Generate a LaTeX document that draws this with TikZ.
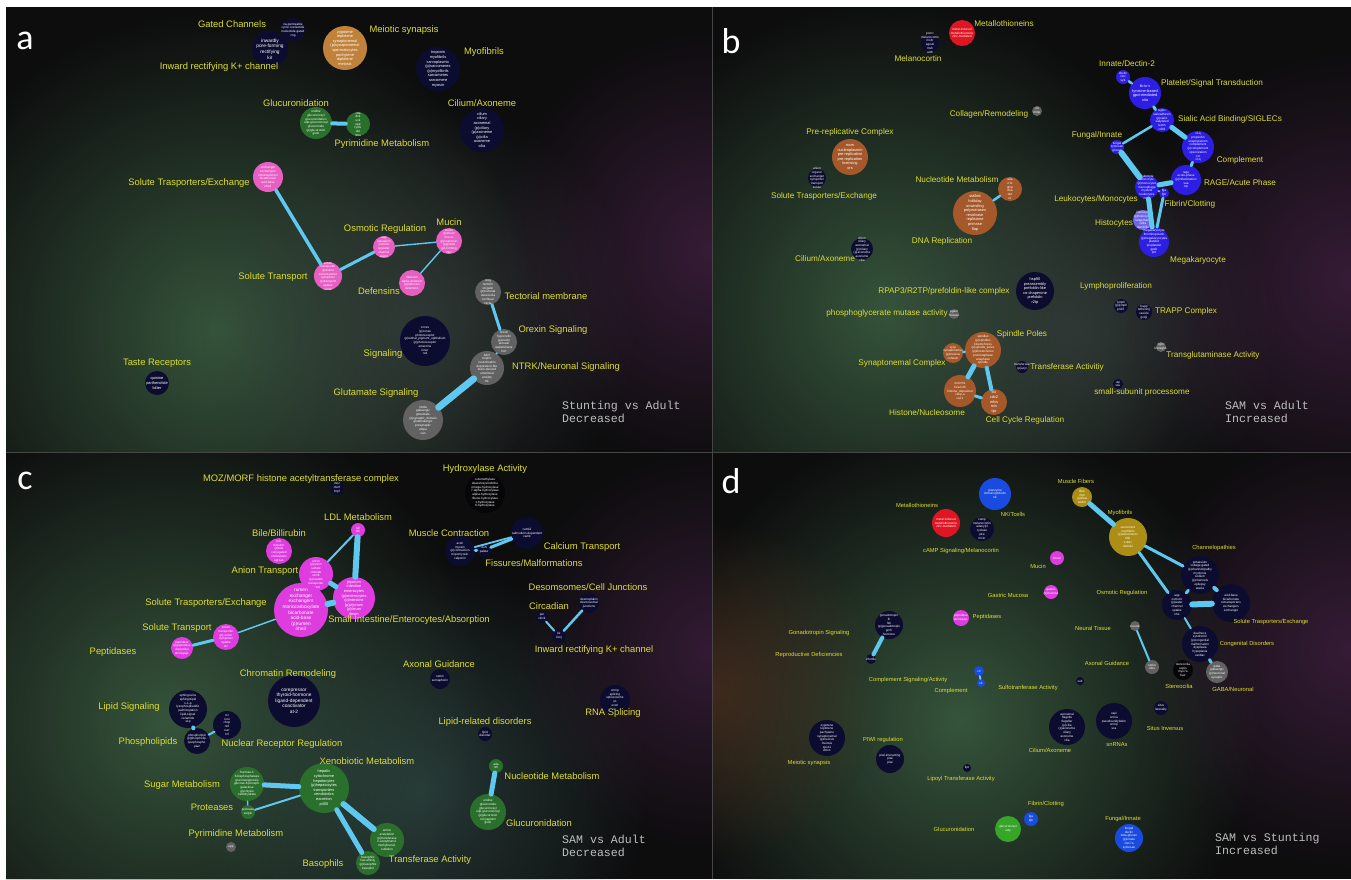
\documentclass[tikz,border=0pt]{standalone}
\usepackage{fontspec}
\setmainfont{Liberation Sans}
\newfontfamily\monof{Liberation Mono}
\newfontfamily\letf{Carlito}
\usetikzlibrary{fadings}
\tikzfading[name=glowfade, inner color=transparent!0, outer color=transparent!100]
\definecolor{bgC}{RGB}{13,13,14}
\definecolor{sepC}{RGB}{70,70,70}
\definecolor{labY}{RGB}{222,222,48}
\definecolor{linkC}{RGB}{95,200,240}
\definecolor{navyC}{RGB}{12,12,48}
\definecolor{pinkA}{RGB}{232,95,195}
\definecolor{magC}{RGB}{222,60,222}
\definecolor{tanC}{RGB}{192,130,58}
\definecolor{brownC}{RGB}{165,88,42}
\definecolor{greenC}{RGB}{42,112,44}
\definecolor{greenD}{RGB}{55,165,40}
\definecolor{grayC}{RGB}{98,98,98}
\definecolor{blueB}{RGB}{45,30,228}
\definecolor{blueH}{RGB}{110,100,232}
\definecolor{blueD}{RGB}{25,75,225}
\definecolor{redC}{RGB}{222,22,35}
\definecolor{goldC}{RGB}{172,142,22}
\definecolor{blackC}{RGB}{6,6,8}
\definecolor{monoC}{RGB}{190,190,190}
\definecolor{gGreen}{RGB}{58,92,64}
\definecolor{gGray}{RGB}{55,62,62}
\definecolor{gPurp}{RGB}{72,34,72}
\definecolor{gTeal}{RGB}{48,74,70}
\definecolor{gBrown}{RGB}{85,50,32}
\newcommand\labfont{\fontsize{9.4}{10}\selectfont}
\newcommand\blabfont{\fontsize{8.2}{9}\selectfont}
\newcommand\dlabfont{\fontsize{5.8}{6.5}\selectfont}
\newcommand\cloudfont{\fontsize{3.1}{3.7}\selectfont}
\newcommand\cloudL{\fontsize{4.8}{5.6}\selectfont}
\newcommand\cloudM{\fontsize{3.9}{4.6}\selectfont}
\newcommand\lab[3]{\node[lab] (#1) at (#2) {#3};}
\newcommand\blab[3]{\node[blab] (#1) at (#2) {#3};}
\newcommand\dlab[3]{\node[dlab] (#1) at (#2) {#3};}
\tikzset{
  lab/.style={text=labY, font=\labfont, inner sep=0pt},
  blab/.style={text=labY, font=\blabfont, inner sep=0pt},
  dlab/.style={text=labY, font=\dlabfont, inner sep=0pt},
  bub/.style={circle, inner sep=0pt, draw=none, fill=#1},
  rad/.style={minimum size=2*#1},
  cloud/.style={text=white, font=\cloudfont, align=center, inner sep=0pt},
  bt/.style={label={[cloud]center:{#1}}},
  btm/.style={label={[cloud,font=\cloudM]center:{#1}}},
  btl/.style={label={[cloud,font=\cloudL]center:{#1}}},
  link/.style={draw=linkC, line cap=round, line width=#1},
  mono/.style={text=monoC, font=\monof\fontsize{11.6}{13}\selectfont, align=left, anchor=north west, inner sep=0pt},
  plet/.style={text=white, font=\letf\fontsize{36}{36}\selectfont, inner sep=0pt},
  glow/.style={fill=#1, path fading=glowfade}
}
\begin{document}
\begin{tikzpicture}[x=1pt,y=-1pt]
\useasboundingbox (0,0) rectangle (1351,879);
\fill[white] (0,0) rectangle (1351,879);
\fill[sepC] (6,7) rectangle (1351,879);
% ---------- backgrounds
\begin{scope}
\clip (6,7) rectangle (712,452);
\fill[bgC] (6,7) rectangle (712,452);
\fill[glow=gGreen, opacity=0.9] (220,330) circle (320);
\fill[glow=gGray, opacity=0.7] (420,320) circle (220);
\fill[glow=gPurp, opacity=0.7] (712,250) circle (220);
\end{scope}
\begin{scope}
\clip (713,7) rectangle (1351,452);
\fill[bgC] (713,7) rectangle (1351,452);
\fill[glow=gGreen, opacity=0.9] (890,310) circle (310);
\fill[glow=gGray, opacity=0.7] (1080,330) circle (200);
\fill[glow=gPurp, opacity=0.7] (1351,280) circle (230);
\end{scope}
\begin{scope}
\clip (6,453) rectangle (712,879);
\fill[bgC] (6,453) rectangle (712,879);
\fill[glow=gGreen, opacity=0.9] (170,720) circle (320);
\fill[glow=gTeal, opacity=0.7] (420,790) circle (230);
\fill[glow=gPurp, opacity=0.65] (712,650) circle (200);
\end{scope}
\begin{scope}
\clip (713,453) rectangle (1351,879);
\fill[bgC] (713,453) rectangle (1351,879);
\fill[glow=gGreen, opacity=0.9] (960,720) circle (300);
\fill[glow=gBrown, opacity=0.65] (713,690) circle (170);
\fill[glow=gPurp, opacity=0.7] (1351,650) circle (220);
\end{scope}
\draw[sepC, line width=0.8] (712.5,7) -- (712.5,879);
\draw[sepC, line width=0.8] (6,452.5) -- (1351,452.5);
% ---------- panel letters
\node[plet] (La) at (25,41) {a};
\node[plet] (Lb) at (731,41) {b};
\node[plet] (Lc) at (25,481) {c};
\node[plet] (Ld) at (731,481) {d};

% ================= PANEL A
\node[bub=navyC, rad=12, bt={na-permeable\\cyclic-nucleotide\\nucleotide-gated\\cng}] (aGate) at (293,30) {};
\node[bub=navyC, rad=18, btl={inwardly\\pore-forming\\rectifying\\kir}] (aInw) at (270,49) {};
\node[bub=tanC, rad=22, btm={zygotene\\leptotene\\synaptonemal\\(p)synaptonemal\\spermatocytes\\pachytene\\diplotene\\meiosis}] (aMei) at (345,48) {};
\node[bub=navyC, rad=22, btm={troponin\\myofibrils\\sarcoplasmic\\(p)sarcomeres\\(p)myofibrils\\sarcomeres\\sarcomere\\myosin}] (aMyo) at (438,69) {};
\node[bub=navyC, rad=22, btm={cilium\\ciliary\\axonemal\\(p)ciliary\\(p)axoneme\\(p)cilia\\axoneme\\cilia}] (aCil) at (482,130) {};
\node[bub=greenC, rad=16, bt={uridine\\glucuronosyl\\glucuronidation\\udp-glucuronosyl\\glucuronide\\(p)glucuronid.\\gusb}] (aGlu) at (316,123) {};
\node[bub=greenC, rad=12, bt={cda\\dck\\uck\\upp\\tyms\\dut\\nme}] (aPyr) at (358,124) {};
\node[bub=pinkA, rad=15, bt={exchanger\\exchangers\\cotransporters\\bicarbonate\\acid-base\\nhe3}] (aSTE) at (268,177) {};
\node[bub=pinkA, rad=14, bt={solute\\transporter\\(p)solute\\cotransporter\\symporter\\(p)transport\\uptake\\carrier}] (aST) at (328,276) {};
\node[bub=pinkA, rad=11, bt={aqp\\aquaporin\\osmotic\\(p)water\\channel\\water}] (aOsm) at (384,247) {};
\node[bub=pinkA, rad=13, bt={mucin\\(p)mucin\\mucus\\glycoprotein\\(p)goblet\\gel-forming\\muc}] (aMuc) at (449,241) {};
\node[bub=pinkA, rad=13, bt={defensin\\alpha-defensin\\(p)defensin\\defensins}] (aDef) at (412,283) {};
\node[bub=grayC, rad=13, bt={otog\\tectorin\\otogelin\\(p)tectorial\\stereocilia\\cochlear\\tecta}] (aTec) at (488,292) {};
\node[bub=grayC, rad=13, bt={orexin\\hypocretin\\(p)orexin\\arousal\\wakefulness\\hcrt}] (aOre) at (504,342) {};
\node[bub=grayC, rad=17, bt={bdnf\\trophic\\neurotrophin\\depression-like\\brain-derived\\emotional\\anxiety\\trk}] (aNTRK) at (487,368) {};
\node[bub=grayC, rad=20, bt={nmda\\gabaergic\\glutamate\\(p)synaptic\_domain\\glutamatergic\\presynaptic\\ampa\\can}] (aGlut) at (423,420) {};
\node[bub=navyC, rad=25, bt={cones\\(p)cones\\photoreceptor\\(p)retinal\_pigment\_epithelium\\(p)photoreceptor\\amacrine\\inner\\rod}] (aSig) at (425,341) {};
\node[bub=navyC, rad=12, btm={quinine\\parthenolide\\bitter}] (aTas) at (157,383) {};
\draw[link=4] (aGlu) -- (aPyr);
\draw[link=3.5] (aSTE) -- (aST);
\draw[link=3] (aST) -- (aOsm);
\draw[link=1.4] (aOsm) -- (aMuc);
\draw[link=1.4] (aMuc) -- (aDef);
\draw[link=3] (aTec) -- (aOre);
\draw[link=2] (aOre) -- (aNTRK);
\draw[link=7] (aNTRK) -- (aGlut);
\lab{aGateL}{232,24}{Gated Channels}
\lab{aInwL}{219,67}{Inward rectifying K+ channel}
\lab{aMeiL}{404,30}{Meiotic synapsis}
\lab{aMyoL}{484,52}{Myofibrils}
\lab{aCilL}{482,103}{Cilium/Axoneme}
\lab{aGluL}{296,103}{Glucuronidation}
\lab{aPyrL}{382,144}{Pyrimidine Metabolism}
\lab{aSTEL}{189,183}{Solute Trasporters/Exchange}
\lab{aOsmL}{385,229}{Osmotic Regulation}
\lab{aMucL}{449,222}{Mucin}
\lab{aSTL}{273,277}{Solute Transport}
\lab{aDefL}{379,291}{Defensins}
\lab{aTecL}{546,296}{Tectorial membrane}
\lab{aOreL}{553,330}{Orexin Signaling}
\lab{aNTRKL}{566,367}{NTRK/Neuronal Signaling}
\lab{aSigL}{383,354}{Signaling}
\lab{aGlutL}{376,393}{Glutamate Signaling}
\lab{aTasL}{157,363}{Taste Receptors}
\node[mono] (aCap) at (562,401) {Stunting vs Adult\\Decreased};

% ================= PANEL B
\node[bub=redC, rad=13, bt={metal-induced\\metallothioneins\\zinc-mediated}] (bMet) at (962,33) {};
\node[bub=navyC, rad=9, bt={pomc\\melanocortin\\mc4r\\agouti\\msh\\acth}] (bMel) at (930,43) {};
\node[bub=blueB, rad=7, bt={dectin\\clec\\syk}] (bInn) at (1123,77) {};
\node[bub=blueB, rad=16, btm={ib-ix-v\\tyrosine-based\\gpvi-mediated\\xiia}] (bPlt) at (1145,93) {};
\node[bub=blueB, rad=12, bt={siglec\\sialoadhesin\\(p)sialic\\sialylated\\lectin\\cd33}] (bSia) at (1162,120) {};
\node[bub=blueB, rad=16, bt={c1q\\properdin\\anaphylatoxin\\complement\\(p)complement\\opsonization\\c1r\\c1q}] (bCom) at (1198,147) {};
\node[bub=blueB, rad=15, bt={rage\\acute-phase\\(p)inflammation\\saa\\crp}] (bRAGE) at (1186,180) {};
\node[bub=blueB, rad=7, bt={fungal\\zymosan\\glucan}] (bFun) at (1117,147) {};
\node[bub=blueB, rad=12, bt={leukocyte\\monocyte\\(p)monocytes\\macrophage\\myeloid\\leukocytes\\cd14}] (bLeu) at (1147,187) {};
\node[bub=blueB, rad=5, bt={fga\\fgb}] (bFib) at (1164,193) {};
\node[bub=blueH, rad=10, bt={histiocyte\\(p)histiocytes\\langerhans\\cd1a\\dendritic}] (bHis) at (1143,220) {};
\node[bub=blueB, rad=15, bt={megakaryocyte\\thrombopoietin\\(p)megakaryocytes\\platelet\\proplatelet\\gp1b\\pf4}] (bMeg) at (1154,242) {};
\node[bub=grayC, rad=5, bt={col\\mmp}] (bCol) at (1037,111) {};
\node[bub=brownC, rad=18, btm={mcm\\nucleoplasmin\\pre-replicative\\pre-replication\\licensing\\ors}] (bPre) at (850,157) {};
\node[bub=navyC, rad=9, bt={anion\\organic\\exchanger\\symporter\\transport\\solute}] (bSTE) at (817,178) {};
\node[bub=brownC, rad=12, bt={ada\\rrm\\gmp\\dna\\dut\\nt}] (bNuc) at (1010,189) {};
\node[bub=brownC, rad=22, btm={stalled\\holliday\\unwinding\\polymerases\\resolvase\\replisome\\primase\\flap}] (bDNA) at (975,213) {};
\node[bub=navyC, rad=11, bt={cilium\\ciliary\\axonemal\\(p)ciliary\\(p)axoneme\\axoneme\\cilia}] (bCil) at (862,249) {};
\node[bub=navyC, rad=19, btm={hsp90\\preassembly\\prefoldin-like\\co-chaperone\\prefoldin\\r2tp}] (bRP) at (1035,291) {};
\node[bub=grayC, rad=5, bt={pgam\\mutase}] (bPGM) at (954,314) {};
\node[bub=navyC, rad=7, bt={lymph\\(p)lymph\\prolif.}] (bLym) at (1121,306) {};
\node[bub=navyC, rad=8, bt={trapp\\tethering\\vesicle\\golgi}] (bTRA) at (1144,312) {};
\node[bub=grayC, rad=5, bt={tgm\\transglut.}] (bTG) at (1161,347) {};
\node[bub=brownC, rad=18, bt={spindles\\(p)spindles\\kinetochores\\(p)spindle\_poles\\(p)kinetochores\\prometaphase\\anaphase\\spindle}] (bSpi) at (983,350) {};
\node[bub=brownC, rad=10, bt={sycp\\synaptonemal\\(p)meiosis\\cohesin}] (bSyn) at (953,353) {};
\node[bub=navyC, rad=6, bt={transferase\\(p)acyl}] (bTrf) at (1022,367) {};
\node[bub=brownC, rad=16, bt={mcm/h1\\h2a-h2b\\histone\_deposited\\cenp-a\\caf-1}] (bHist) at (960,391) {};
\node[bub=brownC, rad=13, btm={slx\\cdc2\\mlxs\\mix\\tpr}] (bCCR) at (994,402) {};
\node[bub=navyC, rad=5, bt={utp\\ssu}] (bSSU) at (1118,384) {};
\draw[link=2.5] (bInn) -- (bPlt);
\draw[link=3] (bPlt) -- (bSia);
\draw[link=5] (bSia) -- (bCom);
\draw[link=3] (bCom) -- (bRAGE);
\draw[link=2.5] (bSia) -- (bFun);
\draw[link=6] (bFun) -- (bLeu);
\draw[link=5] (bLeu) -- (bRAGE);
\draw[link=5] (bLeu) -- (bMeg);
\draw[link=2] (bLeu) -- (bFib);
\draw[link=3] (bFib) -- (bMeg);
\draw[link=2.5] (bDNA) -- (bNuc);
\draw[link=2.5] (bSyn) -- (bSpi);
\draw[link=5] (bSpi) -- (bHist);
\draw[link=4] (bSpi) -- (bCCR);
\draw[link=3] (bHist) -- (bCCR);
\blab{bMetL}{1004,24}{Metallothioneins}
\blab{bMelL}{918,59}{Melanocortin}
\blab{bInnL}{1127,64}{Innate/Dectin-2}
\blab{bPltL}{1212,83}{Platelet/Signal Transduction}
\blab{bSiaL}{1230,119}{Sialic Acid Binding/SIGLECs}
\blab{bComL}{1240,160}{Complement}
\blab{bRAGEL}{1240,183}{RAGE/Acute Phase}
\blab{bFunL}{1097,135}{Fungal/Innate}
\blab{bLeuL}{1096,199}{Leukocytes/Monocytes}
\blab{bFibL}{1190,204}{Fibrin/Clotting}
\blab{bHisL}{1114,223}{Histocytes}
\blab{bMegL}{1198,260}{Megakaryocyte}
\blab{bColL}{989,114}{Collagen/Remodeling}
\blab{bPreL}{850,132}{Pre-replicative Complex}
\blab{bSTEL}{824,196}{Solute Trasporters/Exchange}
\blab{bNucL}{957,180}{Nucleotide Metabolism}
\blab{bDNAL}{942,241}{DNA Replication}
\blab{bCilL}{825,259}{Cilium/Axoneme}
\blab{bRPL}{944,291}{RPAP3/R2TP/prefoldin-like complex}
\blab{bPGML}{887,313}{phosphoglycerate mutase activity}
\blab{bLymL}{1116,286}{Lymphoproliferation}
\blab{bTRAL}{1186,311}{TRAPP Complex}
\blab{bTGL}{1213,355}{Transglutaminase Activity}
\blab{bSpiL}{1022,334}{Spindle Poles}
\blab{bSynL}{902,363}{Synaptonemal Complex}
\blab{bTrfL}{1067,367}{Transferase Activitiy}
\blab{bHistL}{927,413}{Histone/Nucleosome}
\blab{bCCRL}{1025,420}{Cell Cycle Regulation}
\blab{bSSUL}{1142,392}{small-subunit processome}
\node[mono] (bCap) at (1225,401) {SAM vs Adult\\Increased};

% ================= PANEL C
\node[bub=navyC, rad=7, bt={moz\\morf\\brpf}] (cMOZ) at (337,488) {};
\node[bub=blackC, rad=20, bt={o-demethylase\\deacetoxyvindoline\\omega-hydroxylase\\7-alpha-hydroxylase\\alpha-hydroxylase\\ribose-hydroxylase\\1-hydroxylase\\6-hydroxylase}] (cHyd) at (485,493) {};
\node[bub=magC, rad=7, bt={ldl\\ldlr}] (cLDL) at (358,530) {};
\node[bub=magC, rad=13, bt={bile\\bilirubin\\(p)bile\\conjugated\\cholestasis\\ugt1a1}] (cBile) at (279,551) {};
\node[bub=magC, rad=17, bt={anion\\(p)anion\\sulfate\\chloride\\slc26\\(p)oxalate\\transporter\\bicarb}] (cAni) at (316,574) {};
\node[bub=magC, rad=21, btm={jejunum\\intestine\\enterocytes\\(p)enterocytes\\(p)intestine\\(p)jejunum\\(p)ileum\\ileum}] (cSI) at (354,598) {};
\node[bub=magC, rad=27, btl={rumen\\exchanger\\exchangers\\monocarboxylate\\bicarbonate\\acid-base\\(p)rumen\\nhe3}] (cSTE) at (301,610) {};
\node[bub=magC, rad=13, bt={solute\\transporter\\(p)carrier\\symporter\\uptake\\slc}] (cST) at (226,637) {};
\node[bub=magC, rad=11, bt={peptidase\\(p)peptidase\\dipeptidyl\\aminopep.}] (cPep) at (182,648) {};
\node[bub=navyC, rad=15, bt={actin\\myosin\\(p)contraction\\tropomyosin\\calponin}] (cMus) at (460,551) {};
\node[bub=navyC, rad=7, bt={cleft\\palate}] (cFis) at (484,550) {};
\node[bub=navyC, rad=16, bt={camkii\\calmodulin-dependent\\camk}] (cCal) at (527,533) {};
\node[bub=navyC, rad=10, bt={desmoplakin\\desmosomal\\junctions}] (cDes) at (589,603) {};
\node[bub=navyC, rad=6, bt={per\\clock}] (cCir) at (542,617) {};
\node[bub=navyC, rad=7, bt={kir\\kcnj}] (cInw) at (559,636) {};
\node[bub=navyC, rad=10, bt={netrin\\semaphorin}] (cAx) at (440,679) {};
\node[bub=navyC, rad=26, btl={corepressor\\thyroid-hormone\\ligand-dependent\\coactivator\\at-2}] (cChr) at (294,701) {};
\node[bub=navyC, rad=19, bt={sphingosine\\sphingolipid\\s-1-p\\lysophosphatidic\\palmitoylation\\lipid-signal\\ceramide\\s1p}] (cLip) at (188,709) {};
\node[bub=navyC, rad=14, bt={rxr\\roru\\chop\\rxrf\\nurr\\nrf}] (cNuR) at (227,725) {};
\node[bub=navyC, rad=13, bt={phospholipid\\(p)phospholip.\\lysophospho.\\pla2}] (cPho) at (197,741) {};
\node[bub=navyC, rad=15, bt={snrnp\\splicing\\spliceosome\\u1\\exon\\sr}] (cRNA) at (615,700) {};
\node[bub=navyC, rad=7, bt={lipid\\disorder}] (cLRD) at (485,734) {};
\node[bub=greenC, rad=25, btm={hepatic\\cytochrome\\hepatocytes\\(p)hepatocytes\\transporters\\xenobiotics\\excretion\\p450}] (cXen) at (324,788) {};
\node[bub=greenC, rad=17, bt={fructose-1\\6-bisphosphatase\\gluconeogenesis\\glucose-6-phosph.\\galactose\\glycolysis\\carbohydrate}] (cSug) at (247,784) {};
\node[bub=greenC, rad=7, bt={protease\\serpin}] (cPro) at (248,812) {};
\node[bub=grayC, rad=5, bt={upp}] (cPyr) at (231,847) {};
\node[bub=greenC, rad=17, bt={amino\\acetylation\\(p)transferase\\n-acetyltransf.\\methyltransf.\\sulfation}] (cTrf) at (387,840) {};
\node[bub=greenC, rad=12, bt={basophils\\low-affinity\\(p)basophils\\basophil}] (cBas) at (368,863) {};
\node[bub=greenC, rad=7, bt={ada\\nt5}] (cNuc) at (496,766) {};
\node[bub=greenC, rad=18, bt={uridine\\glucuronide\\glucuronosyl\\udp-glucuronosyl\\(p)glucuronid.\\conjugation\\gusb}] (cGlu) at (488,812) {};
\draw[link=2] (cLDL) -- (cAni);
\draw[link=6] (cLDL) -- (cSI);
\draw[link=5] (cAni) -- (cSI);
\draw[link=6] (cSTE) -- (cSI);
\draw[link=1.5] (cSTE) -- (cST);
\draw[link=3] (cST) -- (cPep);
\draw[link=3] (cMus) -- (cFis);
\draw[link=3] (cFis) -- (cCal);
\draw[link=1.8] (cMus) -- (cCal);
\draw[link=2] (cCir) -- (cInw);
\draw[link=2.5] (cInw) -- (cDes);
\draw[link=4] (cLip) -- (cPho);
\draw[link=2] (cPho) -- (cNuR);
\draw[link=5] (cSug) -- (cXen);
\draw[link=2] (cPro) -- (cXen);
\draw[link=1.5] (cSug) -- (cPro);
\draw[link=6] (cXen) -- (cTrf);
\draw[link=5] (cXen) -- (cBas);
\draw[link=5] (cNuc) -- (cGlu);
\lab{cMOZL}{301,479}{MOZ/MORF histone acetyltransferase complex}
\lab{cHydL}{485,469}{Hydroxylase Activity}
\lab{cLDLL}{358,517}{LDL Metabolism}
\lab{cBileL}{279,533}{Bile/Billirubin}
\lab{cAniL}{265,571}{Anion Transport}
\lab{cSIL}{409,620}{Small Intestine/Enterocytes/Absorption}
\lab{cSTEL}{206,603}{Solute Trasporters/Exchange}
\lab{cSTL}{177,628}{Solute Transport}
\lab{cPepL}{113,652}{Peptidases}
\lab{cMusL}{449,533}{Muscle Contraction}
\lab{cFisL}{534,563}{Fissures/Malformations}
\lab{cCalL}{582,547}{Calcium Transport}
\lab{cDesL}{588,587}{Desomsomes/Cell Junctions}
\lab{cCirL}{549,606}{Circadian}
\lab{cInwL}{594,650}{Inward rectifying K+ channel}
\lab{cAxL}{439,664}{Axonal Guidance}
\lab{cChrL}{288,674}{Chromatin Remodeling}
\lab{cLipL}{129,707}{Lipid Signaling}
\lab{cNuRL}{282,744}{Nuclear Receptor Regulation}
\lab{cPhoL}{148,742}{Phospholipids}
\lab{cRNAL}{613,713}{RNA Splicing}
\lab{cLRDL}{485,722}{Lipid-related disorders}
\lab{cXenL}{367,761}{Xenobiotic Metabolism}
\lab{cSugL}{182,785}{Sugar Metabolism}
\lab{cProL}{212,807}{Proteases}
\lab{cPyrL}{236,834}{Pyrimidine Metabolism}
\lab{cTrfL}{430,860}{Transferase Activity}
\lab{cBasL}{323,864}{Basophils}
\lab{cNucL}{552,776}{Nucleotide Metabolism}
\lab{cGluL}{539,823}{Glucuronidation}
\node[mono] (cCap) at (562,835) {SAM vs Adult\\Decreased};

% ================= PANEL D
\node[bub=blueD, rad=16, bt={granzyme\\immunoglobulin\\nk}] (dNK) at (995,494) {};
\node[bub=redC, rad=14, bt={metal-induced\\metallothioneins\\zinc-mediated}] (dMet) at (946,523) {};
\node[bub=navyC, rad=12, bt={camp\\melanocortin\\adenylyl\\cyclase\\pka\\mc1r}] (dcAMP) at (982,529) {};
\node[bub=goldC, rad=10, bt={fiber\\myh\\(p)slow\\twitch}] (dMF) at (1082,497) {};
\node[bub=goldC, rad=19, bt={sarcomere\\myofibrils\\(p)sarcomeres\\titin\\z-disc\\nebulin}] (dMyo) at (1128,537) {};
\node[bub=navyC, rad=19, bt={potassium\\voltage-gated\\(p)channelopathy\\myotonia\\sodium\\(p)channels\\epilepsy\\ataxia}] (dCha) at (1200,575) {};
\node[bub=navyC, rad=19, bt={acid-base\\bicarbonate\\cotransporters\\exchangers\\exchanger}] (dSTE) at (1231,603) {};
\node[bub=navyC, rad=15, bt={aqp\\osmotic\\(p)water\\channel\\uptake\\nhe}] (dOsm) at (1177,605) {};
\node[bub=navyC, rad=18, bt={deafness\\syndromic\\(p)congenital\\malformation\\dysplasia\\hypoplasia\\cardiac}] (dCon) at (1200,644) {};
\node[bub=grayC, rad=11, bt={gaba\\gabaergic\\(p)neuronal\\synaptic}] (dGABA) at (1217,672) {};
\node[bub=blackC, rad=10, bt={stereocilia\\espin\\myo7a\\hair}] (dSte) at (1183,670) {};
\node[bub=grayC, rad=5, bt={neural}] (dNT) at (1135,626) {};
\node[bub=grayC, rad=7, bt={netrin\\robo}] (dAx) at (1152,667) {};
\node[bub=magC, rad=7, bt={mucin}] (dMuc) at (1057,558) {};
\node[bub=magC, rad=7, bt={gastric\\(p)mucosa}] (dGas) at (1051,592) {};
\node[bub=magC, rad=8, bt={peptidase\\aminopep.}] (dPep) at (961,618) {};
\node[bub=navyC, rad=14, bt={gonadotropin\\lh\\fsh\\(p)gonadotropin\\gnrh\\hormone}] (dGon) at (889,625) {};
\node[bub=navyC, rad=5, bt={infertile}] (dRep) at (871,659) {};
\node[bub=blueD, rad=5, bt={c3}] (dCSA) at (979,671) {};
\node[bub=blueD, rad=4, bt={c4}] (dCom) at (981,683) {};
\node[bub=navyC, rad=4, bt={sult}] (dSul) at (1080,681) {};
\node[bub=navyC, rad=18, bt={axonemal\\flagella\\flagellar\\(p)cilia\\(p)axoneme\\ciliary\\axoneme\\cilia}] (dCil) at (1067,727) {};
\node[bub=navyC, rad=18, bt={capi\\snrna\\pseudouridylation\\snrnp\\sca}] (dsn) at (1114,721) {};
\node[bub=navyC, rad=18, bt={zygotene\\leptotene\\pachytene\\synaptonemal\\(p)meiosis\\meiosis\\spo11\\dmc1}] (dMei) at (827,738) {};
\node[bub=navyC, rad=14, bt={piwi-interacting\\piwi\\piwi}] (dPIWI) at (890,759) {};
\node[bub=navyC, rad=4, bt={lipt}] (dLip) at (967,768) {};
\node[bub=navyC, rad=7, bt={situs\\laterality}] (dSit) at (1161,708) {};
\node[bub=blueD, rad=7, bt={fga\\fgb}] (dFib) at (1031,819) {};
\node[bub=greenD, rad=13, bt={glucuronosyl\\udp}] (dGlu) at (1008,829) {};
\node[bub=blueD, rad=14, bt={fungal\\dectin\\beta-glucan\\(p)innate\\clec7a\\zymosan}] (dFun) at (1129,838) {};
\draw[link=5] (dMF) -- (dMyo);
\draw[link=3] (dMyo) -- (dCha);
\draw[link=3] (dMyo) -- (dOsm);
\draw[link=3] (dCha) -- (dOsm);
\draw[link=4] (dCha) -- (dSTE);
\draw[link=6] (dOsm) -- (dSTE);
\draw[link=2] (dOsm) -- (dCon);
\draw[link=3] (dCon) -- (dGABA);
\draw[link=2] (dNT) -- (dAx);
\draw[link=4] (dGon) -- (dRep);
\draw[link=2] (dCSA) -- (dCom);
\dlab{dNKL}{1013,514}{NK/Tcells}
\dlab{dMetL}{917,505}{Metallothioneins}
\dlab{dcAMPL}{961,551}{cAMP Signaling/Melanocortin}
\dlab{dMFL}{1076,481}{Muscle Fibers}
\dlab{dMyoL}{1120,513}{Myofibrils}
\dlab{dChaL}{1214,548}{Channelopathies}
\dlab{dSTEL}{1271,622}{Solute Trasporters/Exchange}
\dlab{dOsmL}{1122,593}{Osmotic Regulation}
\dlab{dConL}{1247,644}{Congenital Disorders}
\dlab{dGABAL}{1233,689}{GABA/Neuronal}
\dlab{dSteL}{1179,686}{Stereocilia}
\dlab{dNTL}{1093,628}{Neural Tissue}
\dlab{dAxL}{1107,663}{Axonal Guidance}
\dlab{dMucL}{1038,566}{Mucin}
\dlab{dGasL}{1008,595}{Gastric Mucosa}
\dlab{dPepL}{987,617}{Peptidases}
\dlab{dGonL}{819,633}{Gonadotropin Signaling}
\dlab{dRepL}{809,655}{Reproductive Deficiencies}
\dlab{dCSAL}{908,680}{Complement Signaling/Activity}
\dlab{dComL}{951,691}{Complement}
\dlab{dSulL}{1028,688}{Sulfotranferase Activity}
\dlab{dCilL}{1050,750}{Cilium/Axoneme}
\dlab{dsnL}{1117,745}{snRNAs}
\dlab{dMeiL}{809,763}{Meiotic synapsis}
\dlab{dPIWIL}{883,740}{PIWI regulation}
\dlab{dLipL}{961,779}{Lipoyl Transferase Activity}
\dlab{dSitL}{1165,728}{Situs Inversus}
\dlab{dFibL}{1046,804}{Fibrin/Clotting}
\dlab{dGluL}{954,829}{Glucuronidation}
\dlab{dFunL}{1123,819}{Fungal/Innate}
\node[mono] (dCap) at (1215,833) {SAM vs Stunting\\Increased};
\end{tikzpicture}
\end{document}
